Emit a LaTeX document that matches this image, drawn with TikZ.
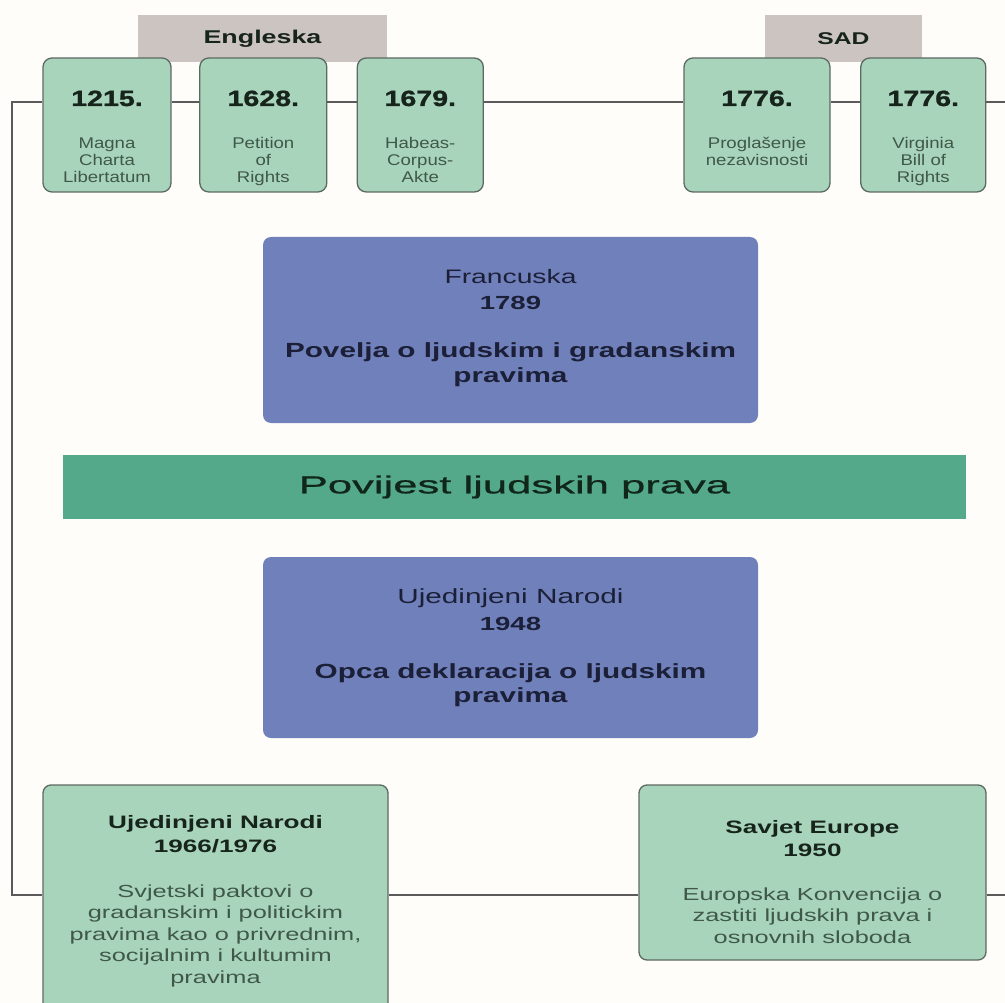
\documentclass[tikz,border=0pt]{standalone}
\usepackage{fontspec}
\setmainfont{Liberation Sans}
\newfontfamily\mainf{Liberation Sans}[FakeStretch=1.45]
\newfontfamily\smallf{Liberation Sans}[FakeStretch=1.2]
\newfontfamily\yearf{Liberation Sans}[FakeStretch=1.3,FakeBold=1.2]
\newfontfamily\bannerf{Liberation Sans}[FakeStretch=1.78,FakeBold=0.8]
\newcommand{\fs}[2]{\fontsize{#1pt}{#2pt}\selectfont}
% width, height, first baseline, content
\newcommand{\boxtext}[4]{\begin{minipage}[c][#2pt][t]{#1pt}\centering
  \vspace*{\dimexpr #3pt-20pt\relax}\rule{0pt}{20pt}#4\end{minipage}}
\newcommand{\yr}[1]{{\yearf\bfseries\fs{22}{22}\color{yeartext}#1}\par
  \smallf\fs{15.5}{16.8}\vspace{26.2pt}}

\definecolor{paper}{HTML}{FEFDFA}
\definecolor{labgrey}{HTML}{CCC4C1}
\definecolor{mintfill}{HTML}{A8D4BC}
\definecolor{mintedge}{HTML}{5D6A61}
\definecolor{decfill}{HTML}{7080BA}
\definecolor{bandfill}{HTML}{55A98B}
\definecolor{linkgrey}{HTML}{5A5A5A}
\definecolor{yeartext}{HTML}{17241B}
\definecolor{desctext}{HTML}{3F5847}
\definecolor{dectext}{HTML}{1B1F38}
\definecolor{bandtext}{HTML}{0F2619}

\begin{document}
\begin{tikzpicture}[x=1pt,y=-1pt]
    \tikzstyle{country}=[rectangle,fill=labgrey,inner sep=0pt,minimum height=47pt,
                         text=yeartext,font=\mainf\bfseries\fs{18.5}{20}]
    \tikzstyle{event}=[rectangle,rounded corners=9pt,draw=mintedge,line width=1.3pt,
                       fill=mintfill,inner sep=0pt,text=desctext]
    \tikzstyle{decl}=[rectangle,rounded corners=8pt,fill=decfill,inner sep=0pt,text=dectext]
    \tikzstyle{band}=[rectangle,fill=bandfill,inner sep=0pt,minimum width=903pt,
                      minimum height=64pt,text=bandtext,font=\bannerf\fs{24.5}{26}]
    \tikzstyle{link}=[draw=linkgrey,line width=1.3pt]

    \fill[paper] (0,0) rectangle (1005,1003);
    \useasboundingbox (0,0) rectangle (1005,1003);

    % country headers
    \node[country,minimum width=249pt] (eng) at (262.5,38.5) {Engleska};
    \node[country,minimum width=157pt,font=\mainf\bfseries\fs{17}{18}] (sad) at (843.5,38.5) {SAD};

    % top row
    \node[event] (b1215)  at (107,125)   {\boxtext{128}{134}{48}{\yr{1215.}Magna\\Charta\\Libertatum}};
    \node[event] (b1628)  at (263.3,125) {\boxtext{127}{134}{48}{\yr{1628.}Petition\\of\\Rights}};
    \node[event] (b1679)  at (420.3,125) {\boxtext{126}{134}{48}{\yr{1679.}Habeas-\\Corpus-\\Akte}};
    \node[event] (b1776a) at (757,125)   {\boxtext{146}{134}{48}{\yr{1776.}Proglašenje\\nezavisnosti}};
    \node[event] (b1776b) at (923.3,125) {\boxtext{125}{134}{48}{\yr{1776.}Virginia\\Bill of\\Rights}};

    % declarations and title
    \node[decl] (fr) at (510.5,330) {\boxtext{495}{186}{47}{\mainf\fs{19.5}{19.5}Francuska\par
        \bfseries\fs{19}{19}\vspace{7pt}1789\par
        \fs{20.5}{24.5}\vspace{23.5pt}Povelja o ljudskim i gradanskim\\pravima}};
    \node[band] (hist) at (514.5,487) {Povijest ljudskih prava};
    \node[decl] (un48) at (510.5,647.5) {\boxtext{495}{181}{46}{\mainf\fs{20.5}{20.5}Ujedinjeni Narodi\par
        \bfseries\fs{19}{19}\vspace{8pt}1948\par
        \fs{20.5}{24.5}\vspace{23.5pt}Opca deklaracija o ljudskim\\pravima}};

    % bottom row
    \node[event,rounded corners=8pt] (un66) at (215.5,905) {\boxtext{345}{240}{43}{\color{yeartext}%
        \mainf\bfseries\fs{18}{24}Ujedinjeni Narodi\\1966/1976\par
        \mdseries\fs{17.5}{21.5}\vspace{23.5pt}\leavevmode\color{desctext}Svjetski paktovi o\\
        gradanskim i politickim\\pravima kao o privrednim,\\socijalnim i kultumim\\pravima}};
    \node[event,rounded corners=8pt] (se50) at (812.5,872.5) {\boxtext{347}{175}{48}{\color{yeartext}%
        \mainf\bfseries\fs{18}{23}Savjet Europe\\1950\par
        \mdseries\fs{17.5}{21.5}\vspace{22.5pt}\leavevmode\color{desctext}Europska Konvencija o\\
        zastiti ljudskih prava i\\osnovnih sloboda}};

    % time line
    \coordinate (tl) at (12,102);
    \coordinate (tr) at (1010,102);
    \coordinate (bl) at (12,895);
    \coordinate (br) at (1010,895);
    \draw[link] (tl -| b1215.west) -- (tl) -- (bl) -- (bl -| un66.west);
    \foreach \a/\b in {b1215/b1628,b1628/b1679,b1679/b1776a,b1776a/b1776b}
        \draw[link] (\a.east |- tl) -- (\b.west |- tl);
    \draw[link] (b1776b.east |- tl) -- (tr);
    \draw[link] (un66.east |- bl) -- (se50.west |- bl);
    \draw[link] (se50.east |- bl) -- (br);

\end{tikzpicture}
\end{document}
